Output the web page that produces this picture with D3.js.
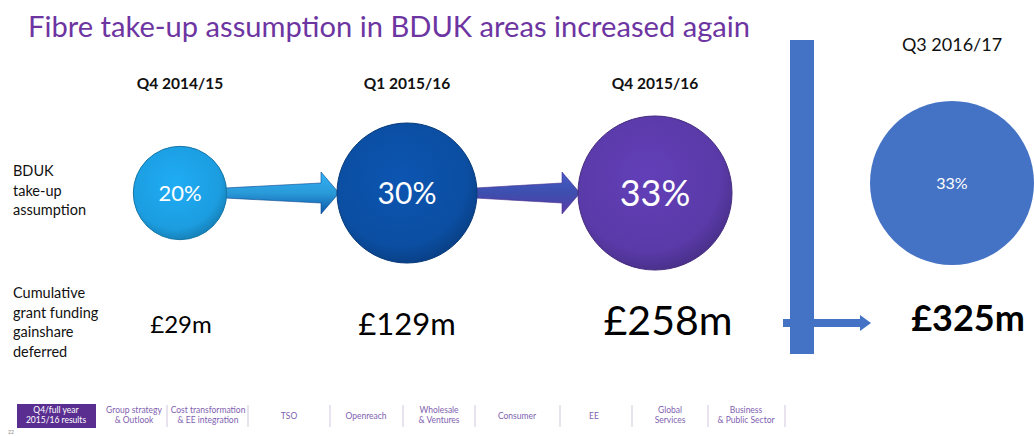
<!DOCTYPE html>
<html>
<head>
<meta charset="utf-8">
<script src="https://cdn.jsdelivr.net/npm/d3@7"></script>
<style>
  body { margin: 0; background: #fff; }
  svg { display: block; font-family: Lato, 'Open Sans', sans-serif; }
</style>
</head>
<body>
<svg width="1034" height="436"></svg>
<script>
// data
const periods = ['Q4 2014/15', 'Q1 2015/16', 'Q4 2015/16', 'Q3 2016/17']
const takeUp = [20, 30, 33, 33]
const gainshare = [29, 129, 258, 325]
const navItems = [
  ['Q4/full year', '2015/16 results'],
  ['Group strategy', '& Outlook'],
  ['Cost transformation', '& EE integration'],
  ['TSO'],
  ['Openreach'],
  ['Wholesale', '& Ventures'],
  ['Consumer'],
  ['EE'],
  ['Global', 'Services'],
  ['Business', '& Public Sector']
]

// layout / styles per column
const colX = d3.scaleOrdinal().domain(periods).range([180, 407, 655, 952])
const circleY = d3.scaleOrdinal().domain(periods).range([193, 193, 193, 183])
const fills = d3.scaleOrdinal().domain(periods).range(['#1c9de0', '#0b4ea2', '#5a3aa8', '#4472c4'])
const rScale = d3.scaleLinear().domain([0, 33]).range([0, 77])
const pctSize = [22, 30, 36, 16]
const moneySize = [24, 31, 41, 36]
const moneyY = [333, 335, 335, 331]

const svg = d3.select('svg')
const defs = svg.append('defs')

// title
svg.append('text')
  .attr('x', 28).attr('y', 37)
  .attr('font-size', 29)
  .attr('fill', '#6d35a2')
  .attr('textLength', 722)
  .attr('lengthAdjust', 'spacingAndGlyphs')
  .text('Fibre take-up assumption in BDUK areas increased again')

// row labels
const rowLabels = [
  { y: 176, lines: ['BDUK', 'take-up', 'assumption'] },
  { y: 298, lines: ['Cumulative', 'grant funding', 'gainshare', 'deferred'] }
]
rowLabels.forEach(r => {
  svg.append('text')
    .attr('font-size', 14.5)
    .attr('fill', '#111')
    .selectAll('tspan')
    .data(r.lines)
    .join('tspan')
    .attr('x', 13)
    .attr('y', (d, i) => r.y + i * 19.5)
    .text(d => d)
})

// vertical bar + small arrow before the last column
svg.append('rect')
  .attr('x', 790).attr('y', 40).attr('width', 24).attr('height', 314)
  .attr('fill', '#4472c4')
svg.append('path')
  .attr('d', 'M783,319 L860,319 L860,315 L871,323 L860,331 L860,327 L783,327 Z')
  .attr('fill', '#4472c4')

// gradients for circles
periods.forEach((p, i) => {
  const g = defs.append('radialGradient')
    .attr('id', 'cg' + i)
    .attr('cx', '45%').attr('cy', '40%').attr('r', '60%')
  const c = d3.color(fills(p))
  if (i < 3) {
    g.append('stop').attr('offset', '0%').attr('stop-color', c.brighter(0.25))
    g.append('stop').attr('offset', '80%').attr('stop-color', c)
    g.append('stop').attr('offset', '100%').attr('stop-color', c.darker(0.5))
  } else {
    g.append('stop').attr('offset', '0%').attr('stop-color', c)
    g.append('stop').attr('offset', '100%').attr('stop-color', c)
  }
})

// arrows between the first three circles
const arrowGrad = [['#2a9ad8', '#0d55a8'], ['#3d4fae', '#5b3aa8']]
for (let i = 0; i < 2; i++) {
  const a = periods[i], b = periods[i + 1]
  const x0 = colX(a) + rScale(takeUp[i]) - 2
  const x1 = colX(b) - rScale(takeUp[i + 1]) + 2
  const y = circleY(a)
  const hx = x1 - 18
  const lg = defs.append('linearGradient').attr('id', 'ag' + i)
    .attr('x1', 0).attr('y1', 0).attr('x2', 0).attr('y2', 1)
  lg.append('stop').attr('offset', '0%').attr('stop-color', d3.color(arrowGrad[i][0]).brighter(0.4))
  lg.append('stop').attr('offset', '50%').attr('stop-color', arrowGrad[i][0])
  lg.append('stop').attr('offset', '100%').attr('stop-color', arrowGrad[i][1])
  svg.append('path')
    .attr('d', `M${x0},${y - 5} L${hx},${y - 10} L${hx},${y - 21} L${x1},${y} L${hx},${y + 21} L${hx},${y + 10} L${x0},${y + 5} Z`)
    .attr('fill', `url(#ag${i})`)
    .attr('stroke', d3.color(arrowGrad[i][1]).darker(0.5))
    .attr('stroke-width', 0.6)
}

// circles
const col = svg.append('g').selectAll('g')
  .data(periods)
  .join('g')
  .attr('transform', d => `translate(${colX(d)},${circleY(d)})`)

col.append('circle')
  .attr('r', (d, i) => i < 3 ? rScale(takeUp[i]) : 82)
  .attr('fill', (d, i) => `url(#cg${i})`)
  .attr('stroke', (d, i) => i < 3 ? d3.color(fills(d)).darker(0.8) : 'none')
  .attr('stroke-width', 1)

col.append('text')
  .attr('text-anchor', 'middle')
  .attr('dy', '0.35em')
  .attr('fill', '#fff')
  .attr('font-size', (d, i) => pctSize[i])
  .text((d, i) => takeUp[i] + '%')

// headers
svg.append('g').selectAll('text')
  .data(periods)
  .join('text')
  .attr('x', d => colX(d))
  .attr('y', (d, i) => i < 3 ? 89 : 51)
  .attr('text-anchor', 'middle')
  .attr('font-size', (d, i) => i < 3 ? 15.5 : 18)
  .attr('font-weight', (d, i) => i < 3 ? 'bold' : 'normal')
  .attr('fill', '#111')
  .text(d => d)

// gainshare values
svg.append('g').selectAll('text')
  .data(periods)
  .join('text')
  .attr('x', (d, i) => colX(d) + [1, 0, 13, 16][i])
  .attr('y', (d, i) => moneyY[i])
  .attr('text-anchor', 'middle')
  .attr('font-size', (d, i) => moneySize[i])
  .attr('font-weight', (d, i) => i === 3 ? 'bold' : 'normal')
  .attr('fill', '#000')
  .text((d, i) => '£' + gainshare[i] + 'm')

// nav bar
const navX = d3.scaleOrdinal().domain(d3.range(navItems.length))
  .range([56, 134, 208, 289, 366, 439, 517, 594, 670, 746])
const sepX = [167, 248, 330, 403, 475, 560, 632, 708, 785]
svg.append('rect')
  .attr('x', 17).attr('y', 404).attr('width', 79).attr('height', 24)
  .attr('fill', '#5a2d91')
svg.append('g').selectAll('line')
  .data(sepX)
  .join('line')
  .attr('x1', d => d).attr('x2', d => d)
  .attr('y1', 405).attr('y2', 427)
  .attr('stroke', '#d8d0e4').attr('stroke-width', 1.2)
const nav = svg.append('g').selectAll('text')
  .data(navItems)
  .join('text')
  .attr('text-anchor', 'middle')
  .attr('font-size', 8.5)
  .attr('fill', (d, i) => i === 0 ? '#fff' : '#7f5fb0')
nav.selectAll('tspan')
  .data((d, i) => d.map(t => ({ t, i, n: d.length })))
  .join('tspan')
  .attr('x', d => navX(d.i))
  .attr('y', (d, j) => d.n === 1 ? 419 : 413 + j * 10)
  .text(d => d.t)

svg.append('text')
  .attr('x', 8).attr('y', 434)
  .attr('font-size', 5).attr('fill', '#888')
  .text('22')
</script>
</body>
</html>
